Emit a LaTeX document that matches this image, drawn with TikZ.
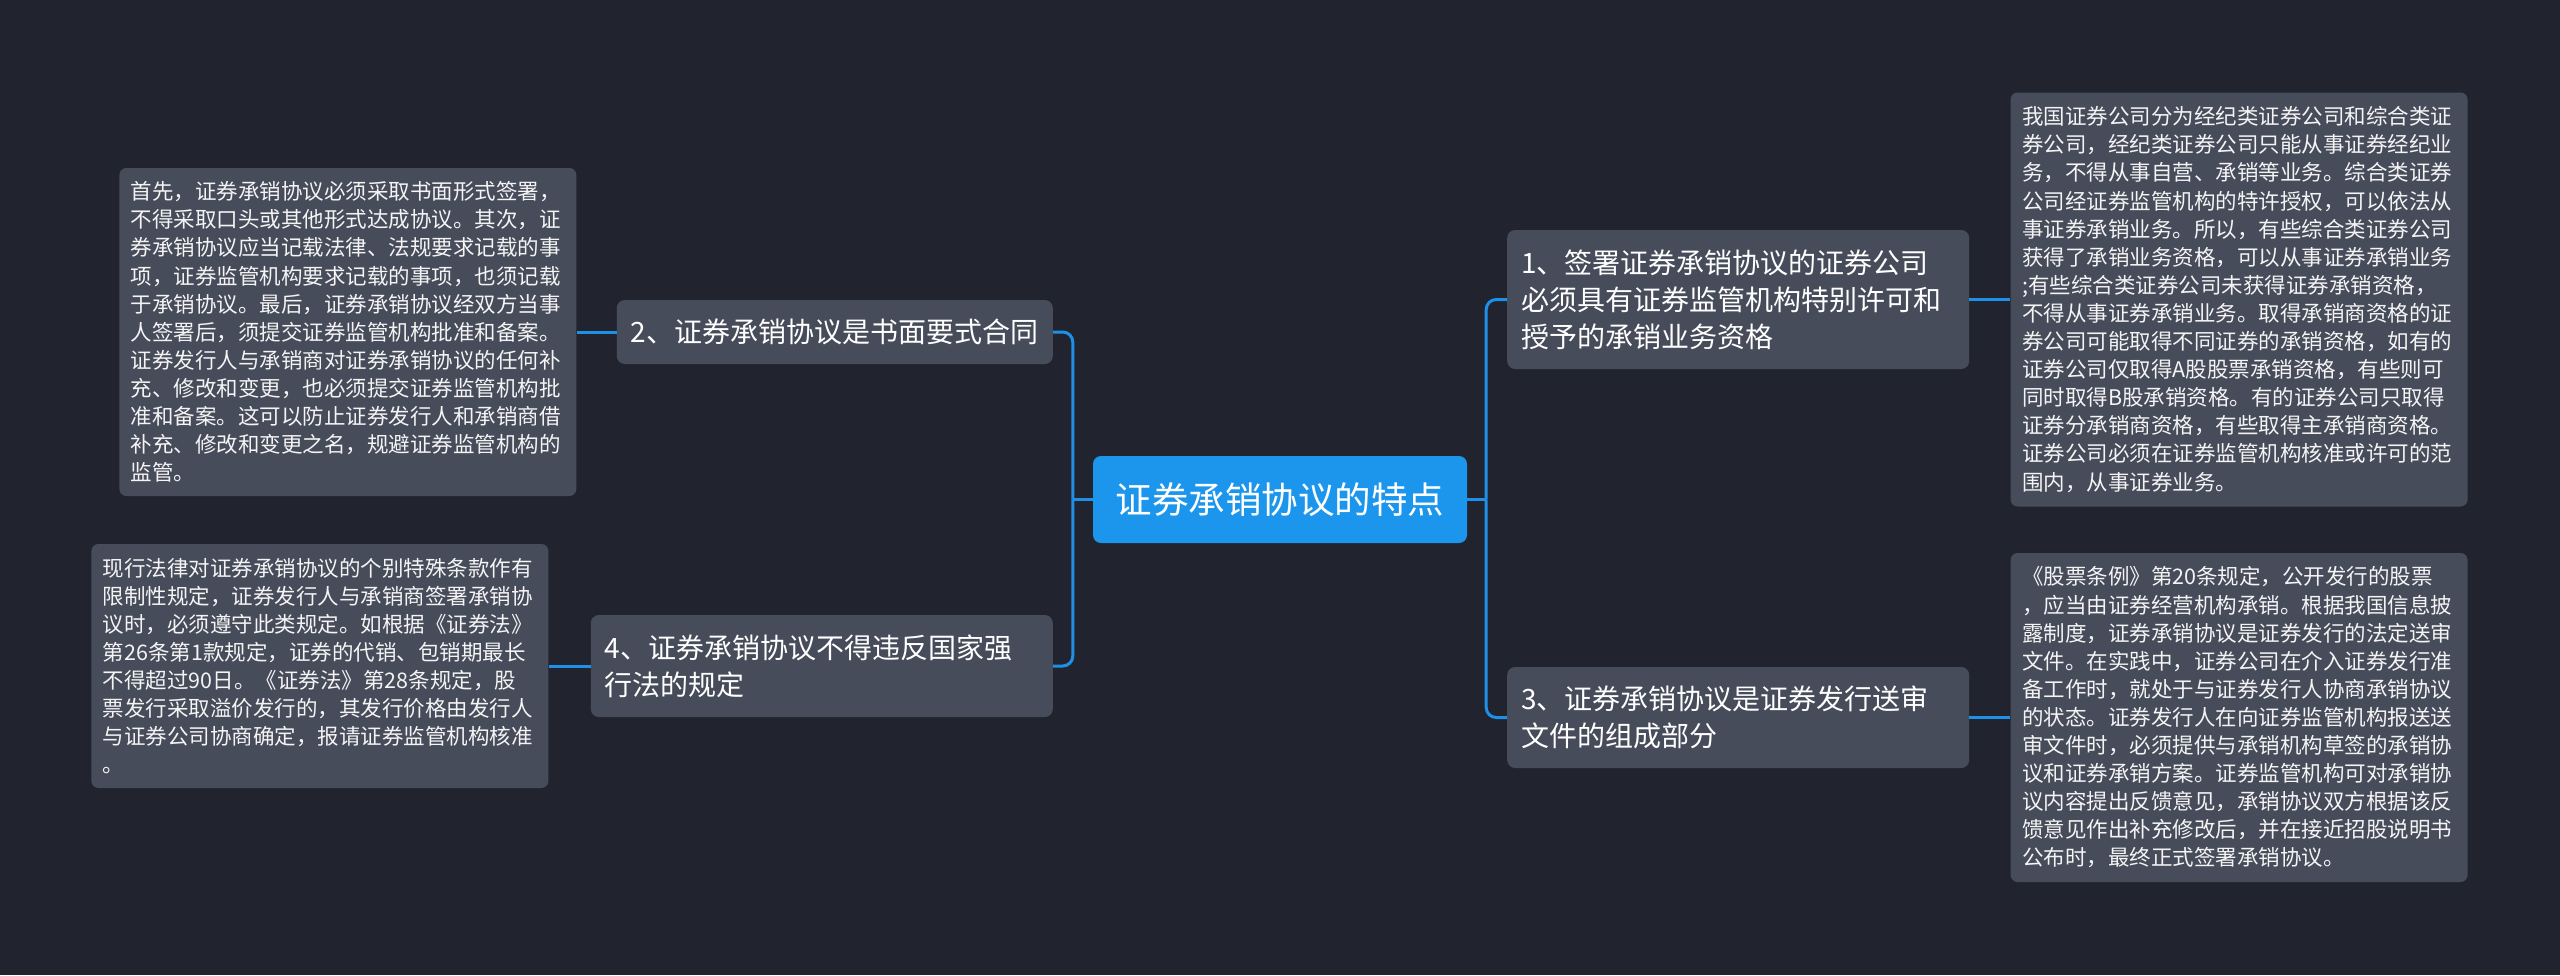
\documentclass[tikz,border=0pt]{standalone}
\usepackage{fontspec}
\newfontfamily\cjk{Noto Sans CJK SC}
\usetikzlibrary{positioning}
\definecolor{bgdark}{RGB}{33,36,46}
\definecolor{boxgray}{RGB}{71,76,90}
\definecolor{topicblue}{RGB}{27,150,236}
\definecolor{linkblue}{RGB}{30,144,232}

\begin{document}
\begin{tikzpicture}[
    x=1pt, y=-1pt,
    node distance=40pt,
    root/.style={fill=topicblue, rounded corners=8pt, minimum width=374pt, minimum height=87pt, text=white, font=\cjk\fontsize{36.5pt}{44pt}\selectfont},
    topic/.style={fill=boxgray, rounded corners=8pt, text width=434pt, inner xsep=14pt, align=left, text=white, font=\cjk\fontsize{28pt}{37pt}\selectfont},
    leaf/.style={fill=boxgray, rounded corners=7pt, text width=434pt, inner xsep=11.5pt, align=left, text=white!94!boxgray, font=\cjk\fontsize{21.5pt}{28.1pt}\selectfont},
    link/.style={draw=linkblue, line width=3pt, rounded corners=10pt}
]
    \fill[bgdark] (0,0) rectangle (2560,975);

    \node[root] (root) at (1280,499.5) {证券承销协议的特点};

    \node[topic, anchor=west, minimum height=139pt] (t1) at (1507,299.5) {1、签署证券承销协议的证券公司\\必须具有证券监管机构特别许可和\\授予的承销业务资格};
    \node[topic, anchor=east, text width=408pt, minimum height=64pt] (t2) at (1053,332) {2、证券承销协议是书面要式合同};
    \node[topic, anchor=west, minimum height=101pt] (t3) at (1507,717.5) {3、证券承销协议是证券发行送审\\文件的组成部分};
    \node[topic, anchor=east, minimum height=102pt] (t4) at (1053,666) {4、证券承销协议不得违反国家强\\行法的规定};

    \node[leaf, minimum height=414pt, right=41pt of t1] (d1) {我国证券公司分为经纪类证券公司和综合类证\\券公司，经纪类证券公司只能从事证券经纪业\\务，不得从事自营、承销等业务。综合类证券\\公司经证券监管机构的特许授权，可以依法从\\事证券承销业务。所以，有些综合类证券公司\\获得了承销业务资格，可以从事证券承销业务\\;有些综合类证券公司未获得证券承销资格，\\不得从事证券承销业务。取得承销商资格的证\\券公司可能取得不同证券的承销资格，如有的\\证券公司仅取得A股股票承销资格，有些则可\\同时取得B股承销资格。有的证券公司只取得\\证券分承销商资格，有些取得主承销商资格。\\证券公司必须在证券监管机构核准或许可的范\\围内，从事证券业务。};
    \node[leaf, minimum height=328pt, left=40pt of t2] (d2) {首先，证券承销协议必须采取书面形式签署，\\不得采取口头或其他形式达成协议。其次，证\\券承销协议应当记载法律、法规要求记载的事\\项，证券监管机构要求记载的事项，也须记载\\于承销协议。最后，证券承销协议经双方当事\\人签署后，须提交证券监管机构批准和备案。\\证券发行人与承销商对证券承销协议的任何补\\充、修改和变更，也必须提交证券监管机构批\\准和备案。这可以防止证券发行人和承销商借\\补充、修改和变更之名，规避证券监管机构的\\监管。};
    \node[leaf, minimum height=329pt, right=41pt of t3] (d3) {《股票条例》第20条规定，公开发行的股票\\，应当由证券经营机构承销。根据我国信息披\\露制度，证券承销协议是证券发行的法定送审\\文件。在实践中，证券公司在介入证券发行准\\备工作时，就处于与证券发行人协商承销协议\\的状态。证券发行人在向证券监管机构报送送\\审文件时，必须提供与承销机构草签的承销协\\议和证券承销方案。证券监管机构可对承销协\\议内容提出反馈意见，承销协议双方根据该反\\馈意见作出补充修改后，并在接近招股说明书\\公布时，最终正式签署承销协议。};
    \node[leaf, minimum height=244pt, left=42pt of t4] (d4) {现行法律对证券承销协议的个别特殊条款作有\\限制性规定，证券发行人与承销商签署承销协\\议时，必须遵守此类规定。如根据《证券法》\\第26条第1款规定，证券的代销、包销期最长\\不得超过90日。《证券法》第28条规定，股\\票发行采取溢价发行的，其发行价格由发行人\\与证券公司协商确定，报请证券监管机构核准\\。};

    \coordinate[left=20pt of root] (lj);
    \coordinate[right=19pt of root] (rj);

    \draw[link] (root.west) -- (lj);
    \draw[link] (lj) |- (t2.east);
    \draw[link] (lj) |- (t4.east);
    \draw[link] (root.east) -- (rj);
    \draw[link] (rj) |- (t1.west);
    \draw[link] (rj) |- (t3.west);

    \draw[link] (t1.east) -- (d1.west);
    \draw[link] (t2.west) -- (d2.east);
    \draw[link] (t3.east) -- (d3.west);
    \draw[link] (t4.west) -- (d4.east);
\end{tikzpicture}
\end{document}
